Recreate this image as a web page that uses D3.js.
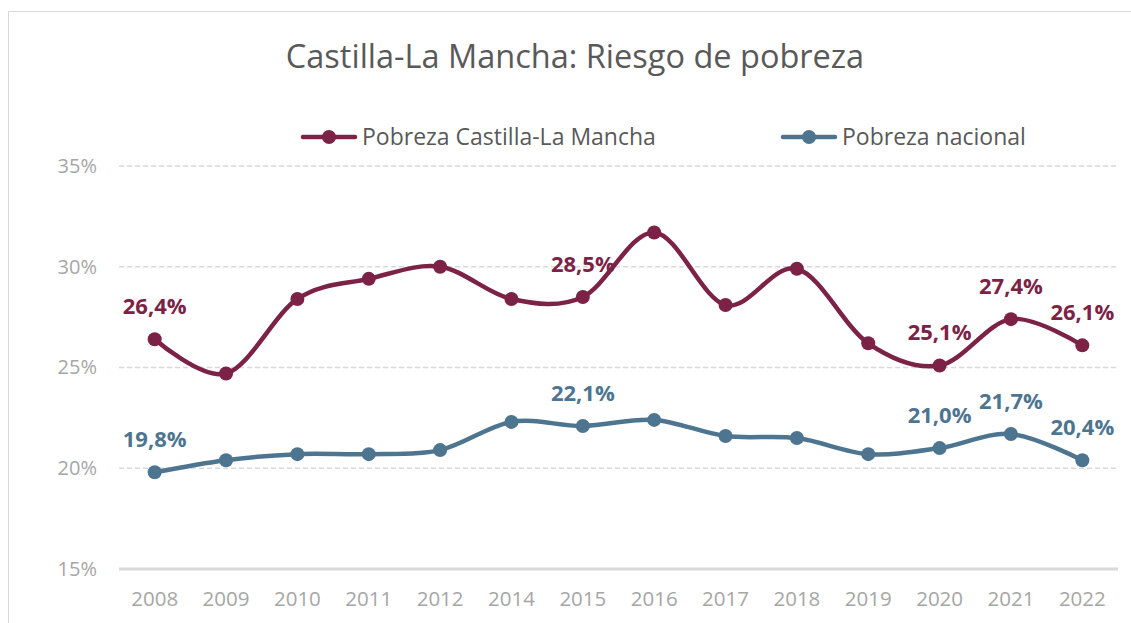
<!DOCTYPE html>
<html>
<head>
<meta charset="utf-8">
<script src="https://cdn.jsdelivr.net/npm/d3@7"></script>
<style>
  html, body { margin: 0; padding: 0; background: #fff; }
  svg { display: block; font-family: "Open Sans", "DejaVu Sans", sans-serif; }
</style>
</head>
<body>
<div id="chart"></div>
<script>
// datos
var years = ["2008", "2009", "2010", "2011", "2012", "2014", "2015", "2016", "2017", "2018", "2019", "2020", "2021", "2022"];
var pobrezaCLM = [26.4, 24.7, 28.4, 29.4, 30.0, 28.4, 28.5, 31.7, 28.1, 29.9, 26.2, 25.1, 27.4, 26.1];
var pobrezaNacional = [19.8, 20.4, 20.7, 20.7, 20.9, 22.3, 22.1, 22.4, 21.6, 21.5, 20.7, 21.0, 21.7, 20.4];
var yTicks = [15, 20, 25, 30, 35];
// años que llevan etiqueta
var labeledYears = ["2008", "2015", "2020", "2021", "2022"];

var series = [
    { name: "Pobreza Castilla-La Mancha", values: pobrezaCLM, color: "#7c2246" },
    { name: "Pobreza nacional", values: pobrezaNacional, color: "#4e7590" }
];

var width = 1131, height = 623;
var margin = { top: 166, right: 13, bottom: 54, left: 119 };

var svg = d3.select("#chart").append("svg")
    .attr("width", width)
    .attr("height", height);

// marco
svg.append("rect")
    .attr("x", 8.5).attr("y", 11.5)
    .attr("width", width).attr("height", height)
    .attr("fill", "none")
    .attr("stroke", "#d9d9d9")
    .attr("stroke-width", 1);

var x = d3.scaleBand().domain(years).range([margin.left, width - margin.right]);
var y = d3.scaleLinear().domain([15, 35]).range([height - margin.bottom, margin.top]);
var cx = d => x(d) + x.bandwidth() / 2;

// título
svg.append("text")
    .attr("x", 575).attr("y", 68)
    .attr("text-anchor", "middle")
    .attr("fill", "#595959")
    .style("font-size", "32.5px")
    .text("Castilla-La Mancha: Riesgo de pobreza");

// rejilla
svg.append("g").selectAll("line")
    .data(yTicks)
    .enter().append("line")
    .attr("x1", margin.left).attr("x2", width - margin.right)
    .attr("y1", d => y(d)).attr("y2", d => y(d))
    .attr("stroke", "#d9d9d9")
    .attr("stroke-width", d => d === 15 ? 3 : 1.5)
    .attr("stroke-dasharray", d => d === 15 ? null : "5,3");

// eje Y
var yAxis = svg.append("g")
    .attr("transform", "translate(" + (margin.left - 22) + ",0)")
    .call(d3.axisLeft(y).tickValues(yTicks).tickSize(0).tickFormat(d => d + "%"));
yAxis.select(".domain").remove();
yAxis.selectAll("text")
    .attr("x", 0)
    .attr("fill", "#a6a6a6")
    .style("font-size", "20px")
    .style("font-family", "'Open Sans', sans-serif");

// eje X
var xAxis = svg.append("g")
    .attr("transform", "translate(0," + (height - margin.bottom) + ")")
    .call(d3.axisBottom(x).tickSize(0));
xAxis.select(".domain").remove();
xAxis.selectAll("text")
    .attr("y", 22)
    .attr("fill", "#a6a6a6")
    .style("font-size", "20.5px")
    .style("font-family", "'Open Sans', sans-serif");

// líneas
var line = d3.line()
    .x((d, i) => cx(years[i]))
    .y(d => y(d))
    .curve(d3.curveCatmullRom.alpha(0));

series.forEach(function (s) {
    svg.append("path")
        .datum(s.values)
        .attr("fill", "none")
        .attr("stroke", s.color)
        .attr("stroke-width", 4.5)
        .attr("stroke-linejoin", "round")
        .attr("d", line);

    svg.append("g").selectAll("circle")
        .data(s.values)
        .enter().append("circle")
        .attr("cx", (d, i) => cx(years[i]))
        .attr("cy", d => y(d))
        .attr("r", 7)
        .attr("fill", s.color);

    svg.append("g").selectAll("text")
        .data(s.values.map((v, i) => ({ year: years[i], value: v }))
            .filter(d => labeledYears.indexOf(d.year) >= 0))
        .enter().append("text")
        .attr("x", d => cx(d.year))
        .attr("y", d => y(d.value) - 25)
        .attr("text-anchor", "middle")
        .attr("fill", s.color)
        .style("font-size", "22px")
        .style("font-weight", "bold")
        .text(d => d.value.toFixed(1).replace(".", ",") + "%");
});

// leyenda
var legendItems = [
    { s: series[0], x: 303 },
    { s: series[1], x: 783 }
];
legendItems.forEach(function (l) {
    var g = svg.append("g").attr("transform", "translate(" + l.x + ",137)");
    g.append("line")
        .attr("x1", 0).attr("x2", 52)
        .attr("stroke", l.s.color)
        .attr("stroke-width", 4.5)
        .attr("stroke-linecap", "round");
    g.append("circle")
        .attr("cx", 26).attr("r", 7)
        .attr("fill", l.s.color);
    g.append("text")
        .attr("x", 59).attr("y", 8)
        .attr("fill", "#595959")
        .style("font-size", "23px")
        .text(l.s.name);
});
</script>
</body>
</html>
